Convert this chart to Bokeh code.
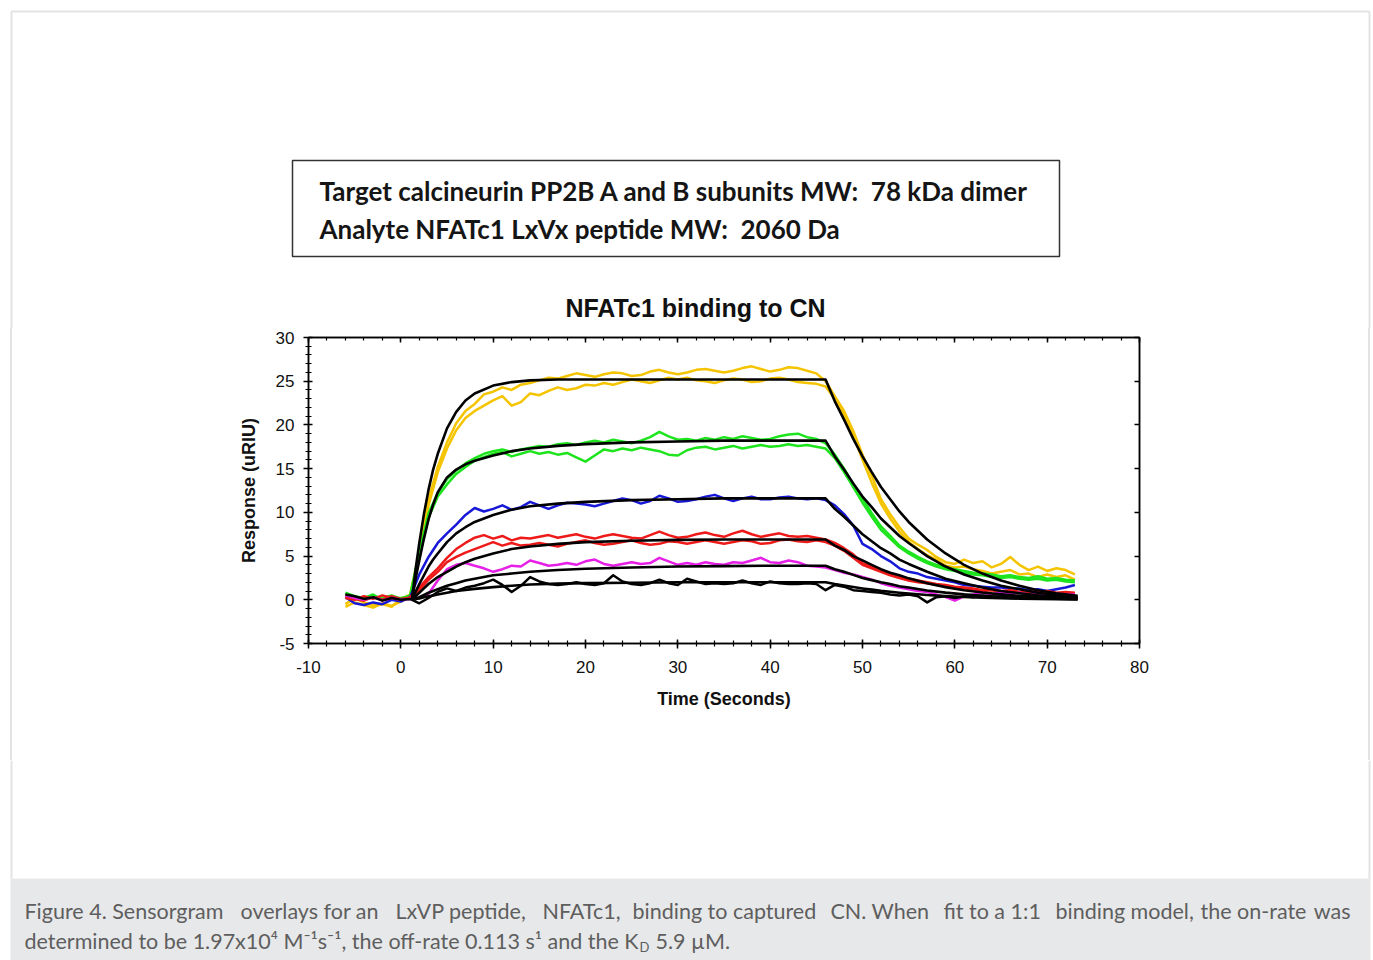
from bokeh.plotting import figure
from bokeh.layouts import column
from bokeh.models import Range1d, LinearAxis, SingleIntervalTicker, CustomJSTickFormatter
from bokeh.core.properties import value
from bokeh.embed import file_html
from bokeh.resources import INLINE

# ---------------- data ----------------
TIME = list(range(-6, 74))  # seconds, one reading per second

YELLOW_A = [-0.5, 0.2, -0.3, -0.6, -0.5, -0.8, 0.1, 0.6, 5.5, 11.5,
            15.2, 18.0, 20.2, 21.6, 22.4, 23.5, 23.8, 24.3, 24.0, 24.6,
            24.8, 25.1, 25.4, 25.3, 25.6, 25.9, 25.7, 25.5, 25.8, 26.0,
            25.9, 25.6, 25.7, 26.1, 26.3, 26.0, 25.8, 26.0, 26.3, 26.4,
            26.2, 26.0, 26.2, 26.5, 26.7, 26.4, 26.1, 26.3, 26.6, 26.5,
            26.2, 25.9, 25.0, 23.3, 21.6, 19.3, 16.6, 14.2, 11.5, 9.8,
            8.3, 7.0, 6.3, 5.7, 4.9, 4.3, 4.1, 4.6, 4.2, 4.4,
            3.7, 4.1, 4.9, 4.0, 3.4, 3.8, 3.3, 3.6, 3.4, 2.9]
YELLOW_B = [-0.8, -0.3, -0.6, -0.9, -0.4, -0.7, -0.2, 0.3, 4.8, 10.8,
            14.6, 17.3, 19.4, 20.8, 21.6, 22.2, 22.8, 23.3, 22.2, 22.6,
            23.6, 23.4, 23.9, 24.3, 24.0, 24.2, 24.6, 24.5, 24.8, 24.6,
            24.9, 25.2, 25.0, 24.8, 25.1, 25.4, 25.2, 25.4, 25.1, 25.0,
            24.8, 25.1, 25.3, 25.2, 24.9, 25.0, 25.3, 25.4, 25.2, 24.9,
            24.8, 24.7, 24.4, 23.0, 21.2, 18.8, 16.0, 13.4, 11.0, 9.3,
            7.8, 6.6, 5.8, 5.1, 4.6, 3.9, 3.7, 3.8, 3.5, 3.3,
            3.0, 3.2, 3.4, 2.9, 3.0, 2.6, 2.9, 2.6, 2.8, 2.3]
GREEN_A = [0.6, 0.3, 0.0, 0.4, 0.2, 0.5, 0.1, 0.5, 5.4, 9.9,
           12.2, 13.8, 14.8, 15.6, 16.2, 16.7, 17.0, 17.2, 16.9, 17.2,
           17.4, 17.6, 17.5, 17.8, 17.9, 17.7, 18.0, 18.2, 18.0, 18.3,
           18.1, 17.9, 18.2, 18.6, 19.2, 18.7, 18.3, 18.4, 18.2, 18.5,
           18.3, 18.6, 18.4, 18.7, 18.5, 18.3, 18.4, 18.7, 18.9, 19.0,
           18.6, 18.4, 17.9, 16.6, 15.0, 13.2, 11.6, 9.9, 8.4, 7.3,
           6.2, 5.5, 4.9, 4.4, 4.0, 3.7, 3.5, 3.3, 3.1, 3.0,
           2.9, 2.7, 2.8, 2.6, 2.5, 2.7, 2.4, 2.5, 2.3, 2.2]
GREEN_B = [0.8, 0.4, 0.2, 0.6, 0.0, 0.3, 0.2, 0.4, 4.9, 9.4,
           11.8, 13.2, 14.4, 15.2, 15.9, 16.3, 16.7, 16.9, 16.4, 16.7,
           17.0, 16.7, 16.9, 16.6, 16.8, 16.3, 15.8, 16.5, 17.2, 17.0,
           17.3, 17.1, 17.4, 17.2, 17.0, 16.6, 16.5, 17.1, 17.4, 17.5,
           17.2, 17.4, 17.6, 17.3, 17.5, 17.7, 17.5, 17.6, 17.8, 17.6,
           17.7, 17.5, 17.3, 16.2, 14.6, 12.9, 11.1, 9.5, 8.0, 7.0,
           6.0, 5.3, 4.7, 4.2, 3.8, 3.5, 3.3, 3.1, 2.9, 2.8,
           2.6, 2.5, 2.6, 2.4, 2.3, 2.4, 2.2, 2.3, 2.1, 2.0]
BLUE = [0.3, -0.4, -0.6, -0.3, -0.5, 0.0, -0.2, 0.3, 2.9, 4.9,
        6.5, 7.6, 8.6, 9.7, 10.5, 10.1, 10.4, 10.8, 10.3, 10.6,
        11.2, 10.8, 10.4, 10.8, 11.1, 11.0, 10.9, 10.7, 11.0, 11.3,
        11.6, 11.4, 11.0, 11.3, 11.9, 11.6, 11.2, 11.3, 11.5, 11.8,
        12.0, 11.6, 11.3, 11.6, 11.8, 11.5, 11.5, 11.7, 11.8, 11.6,
        11.5, 11.6, 11.4, 10.8, 9.8, 8.5, 6.4, 5.8, 5.0, 4.4,
        3.6, 3.2, 3.0, 2.6, 2.4, 2.2, 2.0, 1.7, 1.6, 1.5,
        1.4, 1.4, 1.3, 1.3, 1.1, 1.2, 1.0, 1.2, 1.4, 1.7]
RED_A = [0.2, 0.0, 0.4, 0.1, 0.5, 0.2, 0.0, 0.3, 1.4, 2.6,
         3.6, 4.8, 5.8, 6.5, 7.1, 7.4, 7.0, 7.3, 6.8, 7.1,
         7.0, 7.2, 7.4, 7.1, 7.3, 7.5, 7.2, 7.0, 7.3, 7.5,
         7.3, 7.1, 7.0, 7.4, 7.8, 7.4, 7.1, 7.2, 7.5, 7.7,
         7.4, 7.2, 7.6, 7.9, 7.5, 7.2, 7.4, 7.6, 7.3, 7.2,
         7.3, 7.1, 6.9, 6.5, 5.9, 5.2, 4.2, 3.8, 3.3, 3.0,
         2.7, 2.4, 2.2, 2.0, 1.8, 1.7, 1.5, 1.4, 1.3, 1.1,
         1.2, 1.0, 1.1, 0.9, 1.0, 0.9, 1.0, 0.8, 0.9, 0.8]
RED_B = [0.4, 0.1, -0.1, 0.3, 0.0, 0.4, 0.1, 0.2, 1.1, 2.3,
         3.2, 4.3, 4.9, 5.4, 5.8, 6.2, 6.6, 6.2, 6.5, 6.2,
         6.3, 6.5, 6.3, 6.1, 6.4, 6.6, 6.8, 6.5, 6.3, 6.4,
         6.6, 6.8, 6.5, 6.3, 6.4, 6.7, 6.6, 6.4, 6.6, 6.8,
         6.6, 6.4, 6.6, 6.8, 6.7, 6.4, 6.5, 6.8, 6.9, 6.7,
         6.6, 6.8, 6.6, 6.2, 5.6, 4.8, 4.0, 3.6, 3.2, 2.8,
         2.5, 2.2, 2.0, 1.9, 1.7, 1.6, 1.4, 1.3, 1.2, 1.0,
         1.1, 0.9, 1.0, 0.8, 0.9, 0.8, 0.9, 0.7, 0.8, 0.7]
MAGENTA = [0.5, 0.2, 0.0, 0.3, -0.1, 0.2, 0.0, 0.1, 0.2, 0.7,
           2.2, 3.5, 4.0, 4.2, 3.9, 3.6, 3.2, 3.5, 3.9, 3.8,
           4.5, 4.2, 3.9, 4.0, 4.2, 4.0, 4.4, 4.6, 4.1, 3.9,
           4.1, 4.3, 4.1, 4.2, 4.8, 4.4, 4.0, 4.2, 4.0, 4.3,
           4.1, 4.0, 4.3, 4.2, 4.5, 4.8, 4.3, 4.2, 4.5, 4.3,
           3.9, 3.8, 3.7, 3.4, 3.1, 2.9, 2.6, 2.3, 1.9, 1.6,
           1.4, 1.2, 1.0, 0.9, 0.6, 0.3, -0.1, 0.4, 0.6, 0.8,
           0.6, 0.9, 0.7, 0.8, 0.6, 0.7, 0.5, 0.7, 0.6, 0.6]
BLACK = [0.6, 0.4, 0.1, 0.3, -0.1, 0.2, 0.0, 0.1, -0.4, 0.2,
         0.9, 1.3, 1.0, 1.4, 1.6, 1.9, 2.3, 1.7, 0.9, 1.6,
         2.6, 2.1, 1.8, 1.7, 1.8, 2.0, 1.8, 1.7, 1.9, 2.8,
         2.1, 1.8, 1.7, 1.9, 2.3, 1.9, 1.7, 2.4, 2.1, 1.8,
         1.9, 1.8, 1.9, 2.2, 1.9, 1.7, 2.1, 1.9, 1.8, 1.8,
         1.9, 1.8, 1.1, 1.7, 1.5, 1.1, 1.0, 0.9, 0.8, 0.6,
         0.5, 0.6, 0.4, -0.3, 0.3, 0.4, 0.2, 0.4, 0.3, 0.5,
         0.3, 0.4, 0.2, 0.3, 0.4, 0.2, 0.3, 0.2, 0.4, 0.3]

# 1:1 model fit curves (read at these times)
FIT_TIME = [1.2, 1.6, 2.0, 2.5, 3.0, 3.5, 4.0, 5, 6, 7, 8, 10, 12, 14, 17, 20,
            25, 30, 35, 40, 46, 47, 48, 49, 50, 51, 52, 53, 54, 55, 57, 59,
            61, 63, 65, 67, 69, 71, 73.3]
FIT_YELLOW = [0, 3.5, 6.5, 9.8, 12.6, 14.9, 16.7, 19.6, 21.5, 22.8, 23.6, 24.5,
              24.9, 25.1, 25.2, 25.2, 25.2, 25.2, 25.2, 25.2, 25.2, 22.7, 20.6,
              18.4, 16.4, 14.6, 12.9, 11.5, 10.1, 8.9, 6.9, 5.3, 4.0, 3.0, 2.2,
              1.6, 1.1, 0.75, 0.45]
FIT_GREEN = [0, 2.4, 4.5, 7.0, 9.2, 10.9, 12.3, 14.0, 14.9, 15.5, 15.9, 16.5,
             17.0, 17.3, 17.6, 17.8, 18.0, 18.1, 18.2, 18.2, 18.2, 16.4, 14.9,
             13.3, 11.8, 10.6, 9.3, 8.3, 7.3, 6.5, 5.0, 3.8, 2.9, 2.2, 1.6,
             1.2, 0.8, 0.55, 0.35]
FIT_BLUE = [0, 0.9, 1.8, 2.8, 3.8, 4.6, 5.3, 6.6, 7.6, 8.3, 8.9, 9.7, 10.3,
            10.7, 11.0, 11.2, 11.4, 11.5, 11.6, 11.6, 11.6, 10.4, 9.5, 8.5,
            7.5, 6.7, 5.9, 5.3, 4.6, 4.1, 3.2, 2.4, 1.9, 1.4, 1.0, 0.75, 0.5,
            0.35, 0.25]
FIT_RED = [0, 0.4, 0.8, 1.3, 1.8, 2.2, 2.6, 3.2, 3.8, 4.3, 4.7, 5.3, 5.8, 6.1,
           6.4, 6.6, 6.75, 6.85, 6.9, 6.9, 6.9, 6.2, 5.7, 5.0, 4.5, 4.0, 3.5,
           3.1, 2.8, 2.45, 1.9, 1.45, 1.1, 0.83, 0.62, 0.45, 0.31, 0.21, 0.14]
FIT_MAGENTA = [0, 0.15, 0.3, 0.55, 0.8, 1.0, 1.2, 1.6, 1.9, 2.2, 2.4, 2.8, 3.0,
               3.2, 3.4, 3.55, 3.7, 3.8, 3.85, 3.9, 3.9, 3.5, 3.2, 2.85, 2.5,
               2.25, 2.0, 1.8, 1.55, 1.4, 1.07, 0.82, 0.62, 0.47, 0.35, 0.25,
               0.18, 0.12, 0.08]
FIT_BLACK = [0, 0.08, 0.15, 0.28, 0.4, 0.5, 0.6, 0.8, 1.0, 1.13, 1.25, 1.45,
             1.6, 1.75, 1.85, 1.9, 1.95, 2.0, 2.0, 2.0, 2.0, 1.8, 1.64, 1.46,
             1.3, 1.16, 1.02, 0.91, 0.8, 0.71, 0.55, 0.42, 0.32, 0.24, 0.18,
             0.13, 0.09, 0.06, 0.04]

X_TICKS = [-10, 0, 10, 20, 30, 40, 50, 60, 70, 80]
X_TICK_LABELS = ["-10", "0", "10", "20", "30", "40", "50", "60", "70", "80"]
Y_TICKS = [-5, 0, 5, 10, 15, 20, 25, 30]
Y_TICK_LABELS = ["-5", "0", "5", "10", "15", "20", "25", "30"]

TITLE = "NFATc1 binding to CN"
X_LABEL = "Time (Seconds)"
Y_LABEL = "Response (uRIU)"
BOX_LINE_1 = "Target calcineurin PP2B A and B subunits MW:\u00a0 78 kDa dimer"
BOX_LINE_2 = "Analyte NFATc1 LxVx peptide MW:\u00a0 2060 Da"
# caption line 1 is justified in the original: word groups spread over the full line
CAPTION_1 = [("Figure 4. Sensorgram", 24, "left"),
             ("overlays for an", 240, "left"),
             ("LxVP peptide,", 395, "left"),
             ("NFATc1,", 542, "left"),
             ("binding to captured", 632, "left"),
             ("CN. When", 830, "left"),
             ("fit to a 1:1", 943, "left"),
             ("binding model,", 1055, "left"),
             ("the on-rate", 1200, "left"),
             ("was", 1350, "right")]
CAPTION_2A = "determined to be 1.97x10\u2074 M\u207b\u00b9s\u207b\u00b9, the off-rate 0.113 s\u00b9 and the K"
CAPTION_2B = "D"
CAPTION_2C = "5.9 \u00b5M."

for s in (YELLOW_A, YELLOW_B, GREEN_A, GREEN_B, BLUE, RED_A, RED_B, MAGENTA, BLACK):
    assert len(s) == len(TIME), len(s)
for s in (FIT_YELLOW, FIT_GREEN, FIT_BLUE, FIT_RED, FIT_MAGENTA, FIT_BLACK):
    assert len(s) == len(FIT_TIME), len(s)

# ---------------- layout (pixel rows of the page) ----------------
PAGE_W = 1373
TOP_H = 328            # header strip: text box + chart title
MAIN_BOTTOM = 760      # main chart strip ends here
PAGE_H = 960
FRAME_L, FRAME_R, FRAME_T, FRAME_B = 308, 1139, 337, 643
X0, X1, Y0, Y1 = -10, 80, -5, 30
EDGE_L, EDGE_R, EDGE_T = 11, 1369, 11
PAGE_EDGE = "#e3e3e3"
AX_FONT = "Liberation Sans"
BOX_FONT = "Lato"
CAP_FONT, CAP_COL, CAP_SIZE = "Lato", "#5e5e5e", "21.5px"


def no_align(f):
    if "frame_align" in f.properties():
        f.frame_align = False
    return f


def strip(height, y_top):
    f = figure(width=PAGE_W, height=height, x_range=Range1d(0, PAGE_W),
               y_range=Range1d(y_top + height, y_top), output_backend="svg",
               toolbar_location=None, x_axis_location=None, y_axis_location=None,
               min_border_left=0, min_border_right=0, min_border_top=0, min_border_bottom=0)
    f.outline_line_color = None
    f.grid.visible = False
    f.background_fill_color = "white"
    f.border_fill_color = "white"
    return no_align(f)


# ---- header strip ----
top = strip(TOP_H, 0)
top.multi_line(xs=[[EDGE_L, EDGE_L], [EDGE_L, EDGE_R], [EDGE_R, EDGE_R]],
               ys=[[TOP_H, EDGE_T], [EDGE_T, EDGE_T], [EDGE_T, TOP_H]],
               line_color=PAGE_EDGE, line_width=2)
top.quad(left=[292], right=[1059], top=[160], bottom=[256], fill_color="white",
         line_color="#333333", line_width=1.5)
top.text(x=[319, 319], y=[190, 228], text=[BOX_LINE_1, BOX_LINE_2], text_font=value(BOX_FONT),
         text_font_size="26px", text_font_style="bold", text_color="#151515",
         text_baseline="alphabetic", text_align="left")
top.text(x=[695], y=[307], text=[TITLE], text_font=value(AX_FONT), text_font_size="25px",
         text_font_style="bold", text_color="#111111", text_baseline="alphabetic",
         text_align="center")

# ---- main chart ----
p = figure(width=PAGE_W, height=MAIN_BOTTOM - TOP_H, x_range=Range1d(X0, X1),
           y_range=Range1d(Y0, Y1), output_backend="svg", toolbar_location=None,
           min_border_left=FRAME_L, min_border_right=PAGE_W - FRAME_R,
           min_border_top=FRAME_T - TOP_H, min_border_bottom=MAIN_BOTTOM - FRAME_B,
           styles={"background": "linear-gradient(to right, #ffffff 0px, #ffffff 10px, "
                                 "#e3e3e3 10px, #e3e3e3 12px, #ffffff 12px, #ffffff 1368px, "
                                 "#e3e3e3 1368px, #e3e3e3 1370px, #ffffff 1370px)"})
no_align(p)
p.grid.visible = False
p.background_fill_color = "white"
p.border_fill_color = None
p.outline_line_color = "black"
p.outline_line_width = 1.5

xax = p.xaxis[0]
xax.ticker = SingleIntervalTicker(interval=10, num_minor_ticks=5)
xax.major_label_overrides = dict(zip(X_TICKS, X_TICK_LABELS))
yax = p.yaxis[0]
yax.ticker = SingleIntervalTicker(interval=5, num_minor_ticks=5)
yax.major_label_overrides = dict(zip(Y_TICKS, Y_TICK_LABELS))
for ax, lab in ((xax, X_LABEL), (yax, Y_LABEL)):
    ax.axis_label = lab
    ax.axis_label_text_font = AX_FONT
    ax.axis_label_text_font_style = "bold"
    ax.axis_label_text_font_size = "18px"
    ax.axis_label_text_color = "#111111"
    ax.major_label_text_font = AX_FONT
    ax.major_label_text_font_size = "17px"
    ax.major_label_text_color = "#111111"
    ax.axis_line_color = "black"
    ax.axis_line_width = 1.5
    ax.major_tick_line_color = "black"
    ax.major_tick_line_width = 1.5
    ax.minor_tick_line_color = "black"
    ax.minor_tick_line_width = 1.2
    ax.major_tick_in = 4
    ax.major_tick_out = 5
    ax.minor_tick_in = 3
    ax.minor_tick_out = 3
xax.major_label_standoff = 12
xax.axis_label_standoff = 13
yax.major_label_standoff = 9
yax.axis_label_standoff = 14
yax.major_label_orientation = "horizontal"

blank = CustomJSTickFormatter(code="return ''")
top_ax = LinearAxis(ticker=SingleIntervalTicker(interval=10, num_minor_ticks=5), formatter=blank,
                    major_tick_in=5, major_tick_out=0, minor_tick_in=3, minor_tick_out=0,
                    major_label_standoff=0, major_label_text_font_size="0px",
                    axis_line_width=1.5, major_tick_line_width=1.5, minor_tick_line_width=1.2)
right_ax = LinearAxis(ticker=SingleIntervalTicker(interval=5, num_minor_ticks=0), formatter=blank,
                      major_tick_in=5, major_tick_out=0, minor_tick_in=0, minor_tick_out=0,
                      major_label_standoff=0, major_label_text_font_size="0px",
                      axis_line_width=1.5, major_tick_line_width=1.5, minor_tick_line_color=None)
p.add_layout(top_ax, "above")
p.add_layout(right_ax, "right")

COL_Y, COL_G, COL_B, COL_R, COL_M = "#f5c400", "#1ee41e", "#1818d8", "#ee1a1a", "#e620e6"
LW = 2.5
for ys, c in ((YELLOW_A, COL_Y), (YELLOW_B, COL_Y), (GREEN_A, COL_G), (GREEN_B, COL_G),
              (BLUE, COL_B), (RED_A, COL_R), (RED_B, COL_R), (MAGENTA, COL_M), (BLACK, "black")):
    p.line(TIME, ys, line_color=c, line_width=LW, line_join="round")
for ys in (FIT_YELLOW, FIT_GREEN, FIT_BLUE, FIT_RED, FIT_MAGENTA, FIT_BLACK):
    p.line(FIT_TIME, ys, line_color="black", line_width=2.6, line_join="round")

# ---- caption strip ----
bot = strip(PAGE_H - MAIN_BOTTOM, MAIN_BOTTOM)
bot.multi_line(xs=[[EDGE_L, EDGE_L], [EDGE_R, EDGE_R]],
               ys=[[MAIN_BOTTOM, 878], [MAIN_BOTTOM, 878]], line_color=PAGE_EDGE, line_width=2)
bot.quad(left=[EDGE_L - 1], right=[EDGE_R + 1], top=[878], bottom=[PAGE_H],
         fill_color="#e7e8e9", line_color=None)


def cap(text, x, y, align="left", size=CAP_SIZE):
    bot.text(x=[x], y=[y], text=[text], text_font=value(CAP_FONT), text_font_size=size,
             text_color=CAP_COL, text_baseline="alphabetic", text_align=align)


for txt, x, align in CAPTION_1:
    cap(txt, x, 910, align)
cap(CAPTION_2A, 24, 940)
cap(CAPTION_2B, 639, 946, size="13px")
cap(CAPTION_2C, 655, 940)

page = column(top, p, bot, spacing=0)
open("out.html", "w").write(file_html(page, INLINE))
